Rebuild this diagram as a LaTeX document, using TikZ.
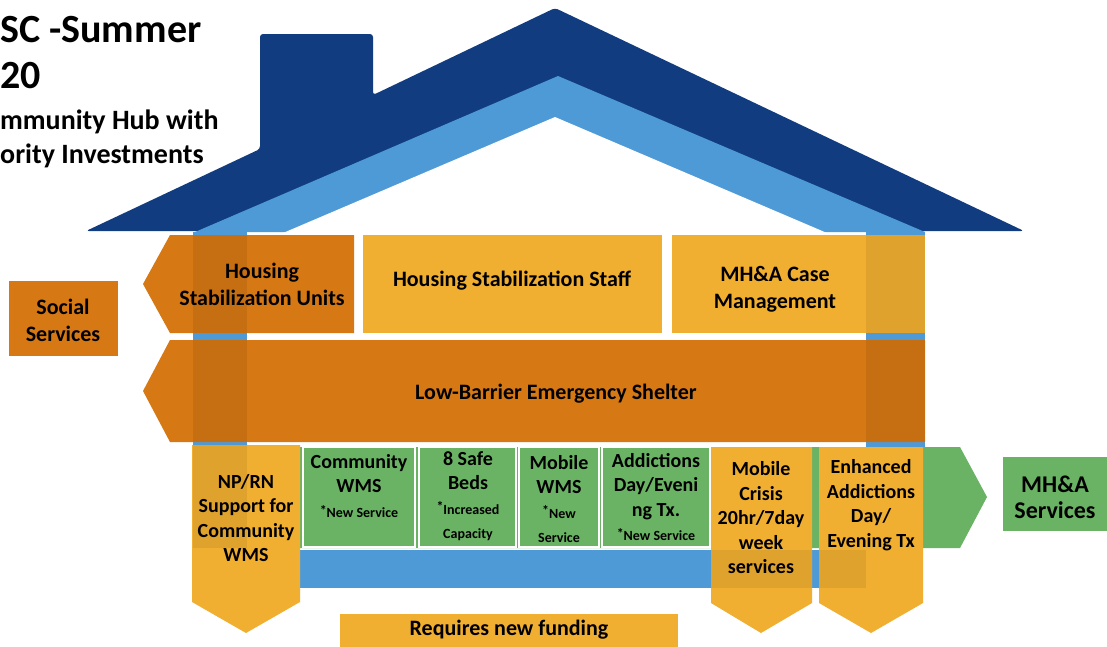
\documentclass[tikz,border=0pt]{standalone}
\usepackage{fontspec}
\setmainfont{Carlito}
\usepackage{tikz}

\definecolor{roofnavy}{RGB}{17,61,128}
\definecolor{wallblue}{RGB}{78,154,215}
\definecolor{deeporange}{RGB}{214,120,20}
\definecolor{paleorange}{RGB}{240,175,48}
\definecolor{mintgreen}{RGB}{106,179,100}

\newcommand{\note}[1]{{\fontsize{14}{20}\selectfont\raisebox{.35ex}{*}#1}}

\begin{document}
\begin{tikzpicture}[x=1pt,y=-1pt,
  lbl/.style={font=\fontsize{20}{24.5}\selectfont\bfseries, align=center, text=black, inner sep=0pt},
  biglbl/.style={lbl, font=\fontsize{22}{27}\selectfont\bfseries},
  ttl/.style={font=\bfseries, anchor=base west, inner sep=0pt, text=black},
  greenbox/.style={fill=mintgreen, draw=white, line width=1.2pt},
  shade/.style={fill=black, fill opacity=.07}]
             \useasboundingbox (0,0) rectangle (1107,646);
             \fill[white] (0,0) rectangle (1107,646);

             % roof with chimney
             \fill[roofnavy, rounded corners=3pt] (86,231) -- (260,149) -- (260,34) -- (373,34)
                  -- (373,95) -- (555,8) -- (1024,231) -- cycle;
             \fill[wallblue] (195,232) -- (558,76) -- (925,232) -- cycle;
             \fill[white] (283,233) -- (555,117) -- (827,233) -- cycle;

             % walls and floor
             \fill[wallblue] (193,232) rectangle (247,548);
             \fill[wallblue] (866,232) rectangle (925,548);
             \fill[wallblue] (247,550) rectangle (866,588);

             % green arrow behind the bottom row
             \fill[mintgreen] (300,447) -- (960,447) -- (987,497) -- (960,548) -- (300,548) -- cycle;

             % top strips
             \fill[deeporange] (170,235) -- (354,235) -- (354,333) -- (170,333) -- (143,284) -- cycle;
             \fill[paleorange] (363,235) rectangle (662,333);
             \fill[paleorange] (672,235) rectangle (925,333);
             \fill[deeporange] (170,340) -- (925,340) -- (925,442) -- (170,442) -- (143,391) -- cycle;

             % green service boxes
             \draw[greenbox] (303,447) rectangle (415,547);
             \draw[greenbox] (419,447) rectangle (516,547);
             \draw[greenbox] (519,447) rectangle (599,547);
             \draw[greenbox] (602,447) rectangle (710,547);

             % down arrows
             \fill[paleorange] (192,445) -- (300,445) -- (300,602) -- (246,633) -- (192,602) -- cycle;
             \fill[paleorange] (711,447) -- (812,447) -- (812,603) -- (761,633) -- (711,603) -- cycle;
             \fill[paleorange] (819,447) -- (923,447) -- (923,603) -- (871,633) -- (819,603) -- cycle;

             % walls showing through
             \fill[shade] (193,235) rectangle (247,333);
             \fill[shade] (193,340) rectangle (247,442);
             \fill[shade] (193,445) rectangle (247,548);
             \fill[shade] (866,235) rectangle (925,333);
             \fill[shade] (866,340) rectangle (925,442);
             \fill[shade] (711,550) rectangle (812,588);
             \fill[shade] (819,550) rectangle (866,588);

             % side and bottom boxes
             \fill[deeporange] (9,281) rectangle (118,356);
             \fill[mintgreen] (1003,457) rectangle (1110,531);
             \fill[paleorange] (340,614) rectangle (678,650);

             % title
             \node[ttl, font=\fontsize{40}{42}\selectfont\bfseries] (title1) at (0,42) {SC -Summer};
             \node[ttl, font=\fontsize{40}{42}\selectfont\bfseries] (title2) at (0,88) {20};
             \node[ttl, font=\fontsize{28}{30}\selectfont\bfseries] (title3) at (0,129) {mmunity Hub with};
             \node[ttl, font=\fontsize{28}{30}\selectfont\bfseries] (title4) at (0,163) {ority Investments};

             % labels
             \node[biglbl] (hsu) at (262,284) {Housing\\Stabilization Units};
             \node[biglbl] (hss) at (512,281) {Housing Stabilization Staff};
             \node[biglbl] (mhcm) at (775,289) {MH\&A Case\\Management};
             \node[biglbl] (soc) at (63,320) {Social\\Services};
             \node[biglbl] (lbes) at (556,394) {Low-Barrier Emergency Shelter};
             \node[lbl] (nprn) at (246,518) {NP/RN\\Support for\\Community\\WMS};
             \node[lbl] (cwms) at (359,486) {Community\\WMS\\\note{New Service}};
             \node[lbl] (beds) at (468,496) {8 Safe\\Beds\\\note{Increased}\\{\fontsize{14}{20}\selectfont Capacity}};
             \node[lbl] (mwms) at (559,499) {Mobile\\WMS\\\note{New}\\{\fontsize{14}{20}\selectfont Service}};
             \node[lbl] (addx) at (656,497) {Addictions\\Day/Eveni\\ng Tx.\\\note{New Service}};
             \node[lbl] (crisis) at (761,518) {Mobile\\Crisis\\20hr/7day\\week\\services};
             \node[lbl] (enh) at (871,505) {Enhanced\\Addictions\\Day/\\Evening Tx};
             \node[lbl, font=\fontsize{24}{26}\selectfont\bfseries] (mhas) at (1055,497) {MH\&A\\Services};
             \node[biglbl] (fund) at (509,630) {Requires new funding};
             \end{tikzpicture}
\end{document}
